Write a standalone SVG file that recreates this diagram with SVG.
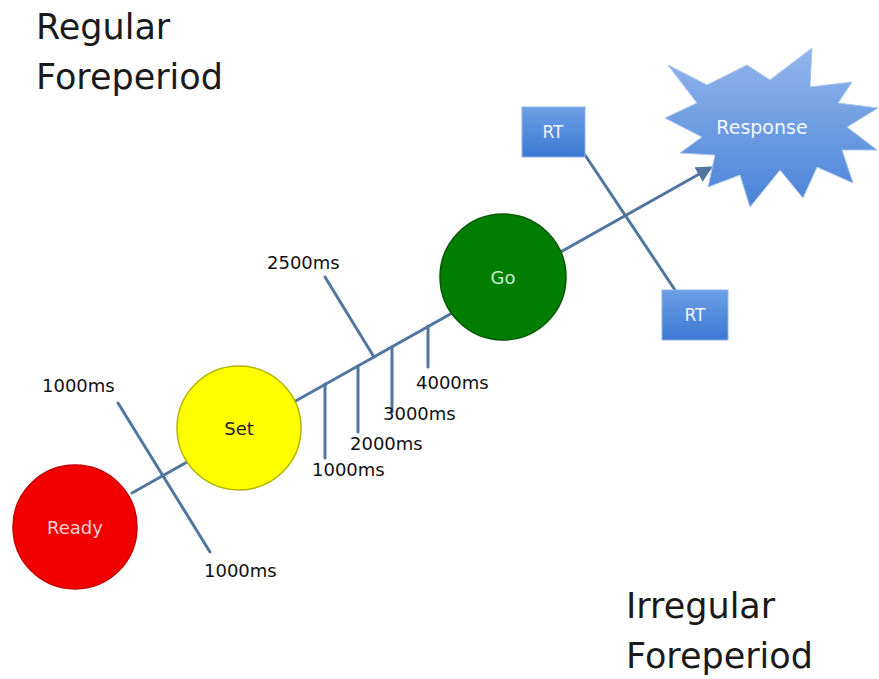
<svg xmlns="http://www.w3.org/2000/svg" width="879" height="679" viewBox="0 0 879 679">
<style>
.title{font-family:"DejaVu Sans","Liberation Sans",sans-serif;font-size:35px;fill:#1a1a1a}
.lbl{font-family:"DejaVu Sans","Liberation Sans",sans-serif;font-size:18px;fill:#111}
.ntext{font-family:"DejaVu Sans","Liberation Sans",sans-serif;font-size:18px;text-anchor:middle;dominant-baseline:central}
.ln{stroke:#52769f;stroke-width:3;fill:none;stroke-linecap:round}
</style>
<defs>
<linearGradient id="blue" x1="0" y1="0" x2="0" y2="1">
<stop offset="0" stop-color="#92b6ec"/>
<stop offset="1" stop-color="#4a83d8"/>
</linearGradient>
<linearGradient id="box" x1="0" y1="0" x2="0" y2="1">
<stop offset="0" stop-color="#6c9fe6"/>
<stop offset="1" stop-color="#3c79d2"/>
</linearGradient>
<marker id="arr" viewBox="0 0 10 10" refX="8" refY="5" markerWidth="5.5" markerHeight="5.5" orient="auto" markerUnits="strokeWidth">
<path d="M0,0 L10,5 L0,10 z" fill="#52769f"/>
</marker>
</defs>
<rect width="879" height="679" fill="#ffffff"/>
<text class="title" x="36" y="39">Regular</text>
<text class="title" x="36" y="89">Foreperiod</text>
<text class="title" x="626" y="618">Irregular</text>
<text class="title" x="626" y="668">Foreperiod</text>
<g id="connectors">
<line class="ln" x1="132" y1="493" x2="710" y2="168" marker-end="url(#arr)"/>
<line class="ln" x1="118" y1="403" x2="210" y2="552"/>
<line class="ln" x1="325" y1="277" x2="374" y2="357"/>
<line class="ln" x1="325" y1="384" x2="325" y2="458"/>
<line class="ln" x1="358" y1="366" x2="358" y2="432"/>
<line class="ln" x1="392" y1="347" x2="392" y2="412"/>
<line class="ln" x1="428" y1="326" x2="428" y2="367"/>
<line class="ln" x1="585" y1="155" x2="675" y2="290"/>
</g>
<g id="labels">
<text class="lbl" x="42" y="392">1000ms</text>
<text class="lbl" x="204" y="577">1000ms</text>
<text class="lbl" x="267" y="269">2500ms</text>
<text class="lbl" x="312" y="476">1000ms</text>
<text class="lbl" x="350" y="450">2000ms</text>
<text class="lbl" x="383" y="420">3000ms</text>
<text class="lbl" x="416" y="389">4000ms</text>
</g>
<g id="ready">
<circle cx="75" cy="527" r="62" fill="#f20000" stroke="#c80000" stroke-width="1.5"/>
<text class="ntext" x="75" y="527" fill="#ffd0d0">Ready</text>
</g>
<g id="set">
<circle cx="239" cy="428" r="62" fill="#ffff00" stroke="#b5b500" stroke-width="1.5"/>
<text class="ntext" x="239" y="428" fill="#222">Set</text>
</g>
<g id="go">
<circle cx="503" cy="277" r="63" fill="#017d01" stroke="#005a00" stroke-width="1.5"/>
<text class="ntext" x="503" y="277" fill="#c8f0c8">Go</text>
</g>
<g id="rt1">
<rect x="522" y="107" width="63" height="50" fill="url(#box)" stroke="#8fb3e8" stroke-width="1"/>
<text class="ntext" x="553" y="132" fill="#f0f4ff" style="font-size:17px">RT</text>
</g>
<g id="rt2">
<rect x="662" y="290" width="66" height="50" fill="url(#box)" stroke="#8fb3e8" stroke-width="1"/>
<text class="ntext" x="695" y="315" fill="#f0f4ff" style="font-size:17px">RT</text>
</g>
<g id="response">
<polygon points="668,65 707,85 747,65 770,80 812,48 810,87 852,82 838,103 878,108 847,127 877,150 842,150 853,183 817,167 803,198 780,170 750,207 740,175 708,187 715,155 680,153 702,137 665,118 697,103" fill="url(#blue)" stroke="#a9c5ee" stroke-width="1" stroke-linejoin="miter"/>
<text class="ntext" x="762" y="127" fill="#f4f7ff" style="font-size:19px">Response</text>
</g>
</svg>
